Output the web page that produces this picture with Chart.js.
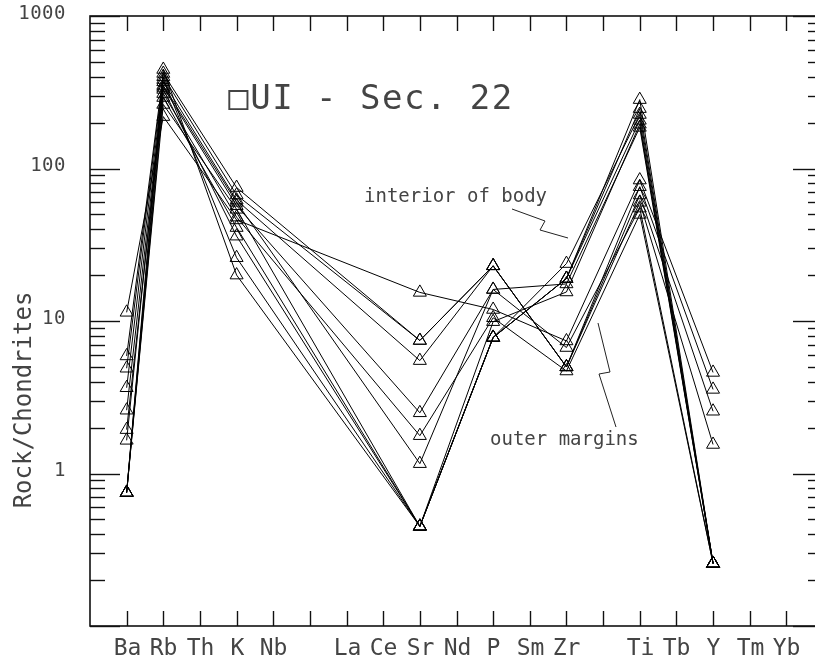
<!DOCTYPE html>
<html>
<head>
<meta charset="utf-8">
<script src="https://cdn.jsdelivr.net/npm/chart.js@4"></script>
<style>
  html, body { margin: 0; padding: 0; background: #fff; overflow: hidden; }
  #wrap { width: 815px; height: 661px; overflow: hidden; }
</style>
</head>
<body>
<div id="wrap"><canvas id="spider" width="840" height="661"></canvas></div>
<script>
// Axis positions (blank strings are empty slots on the axis)
const axisLabels = ['Ba', 'Rb', 'Th', 'K', 'Nb', '', 'La', 'Ce', 'Sr', 'Nd', 'P', 'Sm', 'Zr', '', 'Ti', 'Tb', 'Y', 'Tm', 'Yb'];
// Elements that were actually analysed
const elements = ['Ba', 'Rb', 'K', 'Sr', 'P', 'Zr', 'Ti', 'Y'];
const yTickValues = [1, 10, 100, 1000];

// interior of body samples
const interior1 = [0.75, 446, 20, 0.45, 7.8, 19, 283, 0.257];
const interior2 = [0.75, 383, 26, 0.45, 7.8, 19, 247, 0.257];
const interior3 = [0.75, 330, 36, 0.45, 7.8, 23.8, 226, 0.257];
const interior4 = [0.75, 292, 41, 0.45, 7.8, 19, 207, 0.257];
const interior5 = [0.75, 263, 54, 0.45, 9.9, 15.5, 195, 0.257];
const interior6 = [1.65, 350, 60, 1.16, 16.1, 17.5, 186, 0.257];
// outer margin samples
const outer1 = [11.4, 219, 46, 15.4, 11.9, 7.4, 84, 4.6];
const outer2 = [5.9, 420, 75, 7.45, 23, 5.0, 76, 3.56];
const outer3 = [4.9, 400, 67, 7.45, 23, 5.0, 67, 2.56];
const outer4 = [3.65, 370, 62, 5.5, 23, 5.0, 60, 1.55];
const outer5 = [2.6, 340, 57, 2.5, 16.1, 6.7, 55, 0.257];
const outer6 = [1.94, 310, 48, 1.77, 10.5, 4.7, 50, 0.257];

const allSeries = [interior1, interior2, interior3, interior4, interior5, interior6,
                   outer1, outer2, outer3, outer4, outer5, outer6];

const mono = '"DejaVu Sans Mono", monospace';

function toPoints(values) {
    return elements.map((el, i) => ({ x: axisLabels.indexOf(el), y: values[i] }));
}

// Frame, inward ticks, labels and notes
const framePlugin = {
    id: 'frame',
    afterDatasetsDraw(chart) {
        const ctx = chart.ctx;
        const { left, right, top, bottom } = chart.chartArea;
        const xs = chart.scales.x, ys = chart.scales.y;

        function seg(x1, y1, x2, y2) {
            ctx.beginPath();
            ctx.moveTo(x1, y1);
            ctx.lineTo(x2, y2);
            ctx.stroke();
        }

        ctx.save();
        ctx.strokeStyle = '#111';
        ctx.lineWidth = 1.6;
        ctx.strokeRect(left, top, right - left, bottom - top);

        // x ticks top and bottom
        ctx.lineWidth = 1.4;
        ctx.fillStyle = '#444';
        ctx.font = '23px ' + mono;
        ctx.textAlign = 'center';
        ctx.textBaseline = 'alphabetic';
        axisLabels.forEach((lab, i) => {
            const px = Math.round(xs.getPixelForValue(i)) + 0.5;
            seg(px, bottom, px, bottom - 15);
            seg(px, top, px, top + 15);
            if (lab) ctx.fillText(lab, px, 655);
        });

        // y ticks, both sides
        for (let d = -1; d <= 3; d++) {
            for (let m = 1; m <= 9; m++) {
                const v = m * Math.pow(10, d);
                if (v > 1000) break;
                const py = Math.round(ys.getPixelForValue(v)) + 0.5;
                const len = m === 1 ? 30 : 15;
                seg(left, py, left + len, py);
                seg(right, py, right - len, py);
            }
        }

        // y tick labels
        ctx.font = '19px ' + mono;
        ctx.textAlign = 'right';
        ctx.textBaseline = 'middle';
        if ('letterSpacing' in ctx) ctx.letterSpacing = '0.5px';
        yTickValues.forEach(v => {
            ctx.fillText(String(v), 66, ys.getPixelForValue(v) - 2);
        });
        if ('letterSpacing' in ctx) ctx.letterSpacing = '0px';

        // y title
        ctx.save();
        ctx.translate(25, 400);
        ctx.rotate(-Math.PI / 2);
        ctx.textAlign = 'center';
        ctx.font = '24px ' + mono;
        ctx.fillText('Rock/Chondrites', 0, 0);
        ctx.restore();

        // title
        ctx.textAlign = 'center';
        ctx.font = '34px ' + mono;
        if ('letterSpacing' in ctx) ctx.letterSpacing = '1.5px';
        ctx.fillText('\u25A1UI - Sec. 22', 371, 100);
        if ('letterSpacing' in ctx) ctx.letterSpacing = '0px';

        // annotations
        ctx.font = '19px ' + mono;
        ctx.textAlign = 'left';
        ctx.fillText('interior of body', 364, 197);
        ctx.fillText('outer margins', 490, 440);

        ctx.lineWidth = 1;
        ctx.strokeStyle = '#222';
        ctx.beginPath();
        ctx.moveTo(512, 209);
        ctx.lineTo(545, 221);
        ctx.lineTo(540, 230);
        ctx.lineTo(568, 238);
        ctx.stroke();

        ctx.beginPath();
        ctx.moveTo(598, 323);
        ctx.lineTo(610, 372);
        ctx.lineTo(599, 374);
        ctx.lineTo(616, 427);
        ctx.stroke();

        ctx.restore();
    }
};

const ctx = document.getElementById('spider').getContext('2d');
new Chart(ctx, {
    type: 'line',
    data: {
        datasets: allSeries.map(s => ({
            data: toPoints(s),
            borderColor: '#000',
            borderWidth: 1,
            tension: 0,
            fill: false,
            pointStyle: 'triangle',
            pointRadius: 7.5,
            pointBorderWidth: 1,
            pointBorderColor: '#000',
            pointBackgroundColor: 'rgba(0,0,0,0)'
        }))
    },
    options: {
        responsive: false,
        animation: false,
        events: [],
        layout: { padding: { left: 90, top: 16, right: 17, bottom: 35 } },
        scales: {
            x: { type: 'linear', min: -1, max: 19, display: false },
            y: { type: 'logarithmic', min: 0.1, max: 1000, display: false }
        },
        plugins: {
            legend: { display: false },
            tooltip: { enabled: false }
        }
    },
    plugins: [framePlugin]
});
</script>
</body>
</html>
